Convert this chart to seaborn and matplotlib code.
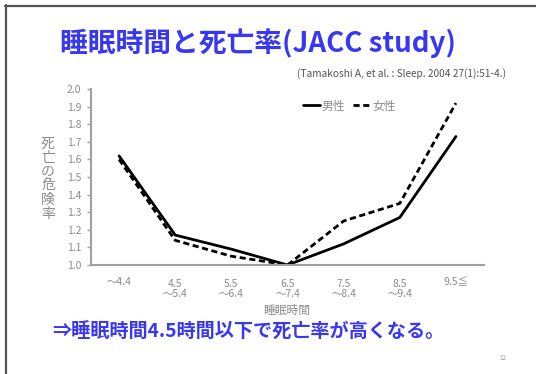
import matplotlib
matplotlib.use("Agg")
import matplotlib.pyplot as plt
from matplotlib.lines import Line2D
import seaborn as sns
import pandas as pd

# Sleep duration categories (hours) and relative mortality risk
categories = ["～4.4", "4.5\n～5.4", "5.5\n～6.4", "6.5\n～7.4", "7.5\n～8.4", "8.5\n～9.4", "9.5≦"]
men = [1.62, 1.17, 1.09, 1.00, 1.12, 1.27, 1.73]
women = [1.60, 1.14, 1.05, 1.00, 1.25, 1.35, 1.92]
y_ticks = [1.0, 1.1, 1.2, 1.3, 1.4, 1.5, 1.6, 1.7, 1.8, 1.9, 2.0]

sns.set_theme(style="white")
plt.rcParams["font.family"] = ["Noto Sans CJK JP", "DejaVu Sans"]

W, H = 536, 374
fig = plt.figure(figsize=(W / 100, H / 100), dpi=100)
fig.patch.set_facecolor("white")

def fx(px):
    return px / W

def fy(py):
    return 1 - py / H

ax = fig.add_axes([fx(91), fy(265), fx(484) - fx(91), fy(89) - fy(265)])

df = pd.DataFrame({
    "pos": list(range(len(categories))) * 2,
    "risk": men + women,
    "sex": ["男性"] * len(men) + ["女性"] * len(women),
})

dash = (0, (2.2, 1.3))
sns.lineplot(data=df[df["sex"] == "男性"], x="pos", y="risk", ax=ax,
             color="black", linewidth=2.0, legend=False)
sns.lineplot(data=df[df["sex"] == "女性"], x="pos", y="risk", ax=ax,
             color="black", linewidth=2.0, linestyle=dash, legend=False)

ax.set_xlim(-0.5, len(categories) - 0.5)
ax.set_ylim(1.0, 2.0)
ax.set_yticks(y_ticks)
ax.set_yticklabels([f"{v:.1f}" for v in y_ticks])
ax.set_xticks(range(len(categories)))
ax.set_xticklabels(categories, linespacing=1.05)
ax.set_xlabel("")
ax.set_ylabel("")

grey = "#8c8c8c"
for side in ["top", "right"]:
    ax.spines[side].set_visible(False)
for side in ["left", "bottom"]:
    ax.spines[side].set_color("#a0a0a0")
    ax.spines[side].set_linewidth(1.5)
ax.tick_params(axis="y", left=True, length=3, width=1, color="#a0a0a0",
               labelsize=7.5, labelcolor=grey, pad=4)
ax.tick_params(axis="x", bottom=False, labelsize=7.5, labelcolor=grey, pad=4)
for i, lbl in enumerate(ax.get_xticklabels()):
    lbl.set_verticalalignment("top")
    if "\n" not in categories[i]:
        lbl.set_y(0.012)

# Legend
handles = [
    Line2D([], [], color="black", linewidth=2.0),
    Line2D([], [], color="black", linewidth=2.0, linestyle=dash),
]
leg = ax.legend(handles, ["男性", "女性"], ncol=2, frameon=False,
                loc="center left", bbox_to_anchor=(fx(292), fy(106)),
                bbox_transform=fig.transFigure, handlelength=1.5,
                handletextpad=0.1, columnspacing=0.7, fontsize=8.5)
for t in leg.get_texts():
    t.set_color(grey)

# Axis titles
fig.text(fx(48), fy(179), "\n".join("死亡の危険率"), ha="center", va="center",
         fontsize=10, color=grey, linespacing=1.0)
fig.text(fx(287), fy(310), "睡眠時間", ha="center", va="center",
         fontsize=8.5, color=grey)

# Slide title, citation and conclusion
blue = "#3838f2"
fig.text(fx(258), fy(43), "睡眠時間と死亡率(JACC study)", ha="center", va="center",
         fontsize=20, fontweight="bold", color=blue)
fig.text(fx(506), fy(74), "(Tamakoshi A, et al. : Sleep. 2004 27(1):51-4.)",
         ha="right", va="center", fontsize=7.3, color="#555555")
fig.text(fx(52), fy(331), "⇒睡眠時間4.5時間以下で死亡率が高くなる。", ha="left", va="center",
         fontsize=13.8, fontweight="bold", color=blue)
fig.text(fx(503), fy(358), "12", ha="center", va="center", fontsize=4.5, color="#999999")

# Slide frame edges
fig.add_artist(Line2D([fx(5), 1], [fy(5.5), fy(5.5)], transform=fig.transFigure,
                      color="#555555", linewidth=1.6))
fig.add_artist(Line2D([fx(5.5), fx(5.5)], [0, fy(5)], transform=fig.transFigure,
                      color="#555555", linewidth=1.6))

fig.savefig("out.png", dpi=100)
